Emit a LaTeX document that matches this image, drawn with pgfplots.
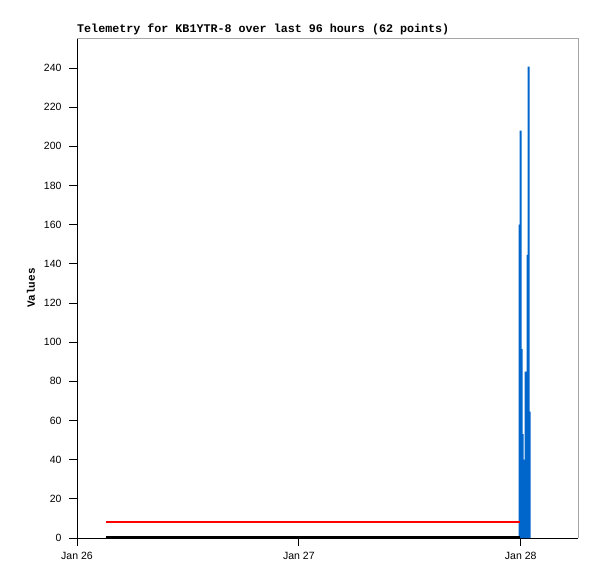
\documentclass[border=0pt]{standalone}
\usepackage{pgfplots}
\pgfplotsset{compat=1.18}
\usepackage{fontspec}
\setmainfont{Liberation Sans}
\newfontfamily\monob{Liberation Mono}
\definecolor{barblue}{HTML}{0066CC}
\begin{document}
\begin{tikzpicture}
\useasboundingbox (-77pt,-41pt) rectangle (520pt,538pt);
\begin{axis}[
  anchor=origin,
  scale only axis, width=501pt, height=500pt,
  xmin=0, xmax=54.2, ymin=0, ymax=255.3,
  axis lines=left, axis line style={-, line width=0.8pt},
  tick align=outside, major tick length=8pt,
  tick style={black, line width=0.8pt},
  xtick={0,24,48}, xticklabels={Jan 26,Jan 27,Jan 28},
  ytick={0,20,...,240},
  /pgf/number format/assume math mode=true,
  tick label style={font=\fontsize{10.5}{12}\selectfont},
  xticklabel style={yshift=-3pt},
  yticklabel style={xshift=-4pt},
  ylabel={\monob\bfseries Values}, ylabel style={font=\fontsize{11}{12}\selectfont, yshift=2pt},
  clip=false,
]
\draw[gray!70, line width=0.6pt] (rel axis cs:0,1) -- (rel axis cs:1,1) -- (rel axis cs:1,0);
\addplot[const plot, fill=barblue, draw=none] coordinates {
 (47.78,160) (47.89,208) (48.11,96.5) (48.22,53) (48.32,40) (48.43,85)
 (48.65,144.5) (48.76,240.7) (48.97,64.5) (49.08,64.5)} \closedcycle;
\addplot[red, line width=2pt] coordinates {(3.14,8) (47.89,8)};
\addplot[black, line width=2pt] coordinates {(3.14,0.6) (47.89,0.6)};
\node[anchor=south west, inner sep=0pt, font=\monob\bfseries\fontsize{11.7}{12}\selectfont] at (rel axis cs:0,1) [yshift=3pt] {Telemetry for KB1YTR-8 over last 96 hours (62 points)};
\end{axis}
\end{tikzpicture}
\end{document}
